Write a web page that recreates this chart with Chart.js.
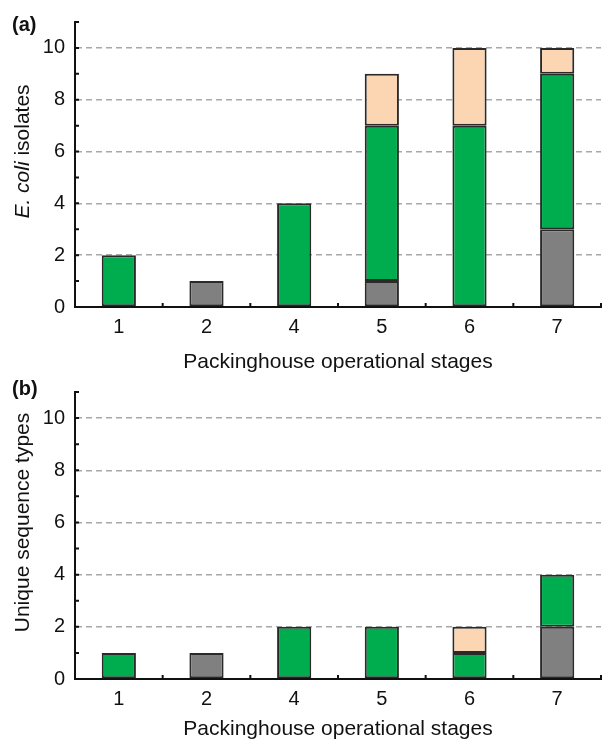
<!DOCTYPE html>
<html>
<head>
<meta charset="utf-8">
<script src="https://cdn.jsdelivr.net/npm/chart.js@4"></script>
<style>
  body { margin: 0; background: #fff; width: 604px; height: 740px; overflow: hidden; position: relative;
         font-family: "Liberation Sans", Arial, sans-serif; color: #111; }
  .panel { position: absolute; left: 0; width: 604px; height: 380px; }
  .lab { position: absolute; left: 12px; font-weight: bold; font-size: 20px; line-height: 20px; }
</style>
</head>
<body>
<div class="panel" style="top:0"><canvas id="chartA" width="604" height="380"></canvas></div>
<div class="panel" style="top:370px"><canvas id="chartB" width="604" height="380"></canvas></div>
<div class="lab" style="top:14px">(a)</div>
<div class="lab" style="top:378px">(b)</div>
<script>
const stages = ["1", "2", "4", "5", "6", "7"];

// (a) E. coli isolates
const isolatesGrey = [0, 1, 0, 1, 0, 3];
const isolatesGreen = [2, 0, 4, 6, 7, 6];
const isolatesPeach = [0, 0, 0, 2, 3, 1];

// (b) unique sequence types
const seqGrey = [0, 1, 0, 0, 0, 2];
const seqGreen = [1, 0, 2, 2, 1, 2];
const seqPeach = [0, 0, 0, 0, 1, 0];

const yLabels = [0, 2, 4, 6, 8, 10];
const yMax = 11;

const GREY = "#808080", GREEN = "#00ad4e", PEACH = "#fcd5b2";
const FONT = "'Liberation Sans', Arial, sans-serif";

// zero segments are left out so no empty border is drawn
const noZero = arr => arr.map(v => (v === 0 ? null : v));

function bars(label, data, color) {
  return {
    label: label,
    data: noZero(data),
    backgroundColor: color,
    borderColor: "#2a2a2a",
    borderWidth: 2,
    borderSkipped: false,
    barPercentage: 0.39,
    categoryPercentage: 1.0
  };
}

// inward tick marks + y title with italic part
const axisMarks = {
  id: "axisMarks",
  afterDraw(chart, args, opts) {
    const ctx = chart.ctx, x = chart.scales.x, y = chart.scales.y;
    ctx.save();
    ctx.strokeStyle = "#111";
    ctx.lineWidth = 2;
    ctx.beginPath();
    for (let v = 1; v <= yMax; v++) {
      const py = y.getPixelForValue(v);
      ctx.moveTo(x.left, py);
      ctx.lineTo(x.left + 4, py);
    }
    const half = (x.getPixelForValue(1) - x.getPixelForValue(0)) / 2;
    for (let i = 0; i < stages.length; i++) {
      const px = x.getPixelForValue(i) + half;
      ctx.moveTo(px, y.bottom);
      ctx.lineTo(px, y.bottom - 4);
    }
    ctx.stroke();

    // y axis title
    const parts = opts.title || [];
    ctx.translate(opts.titleX, (y.top + y.bottom) / 2 - 13);
    ctx.rotate(-Math.PI / 2);
    ctx.fillStyle = "#111";
    ctx.textBaseline = "middle";
    let total = 0;
    parts.forEach(p => {
      ctx.font = (p.italic ? "italic " : "") + "21px " + FONT;
      p.w = ctx.measureText(p.text).width;
      total += p.w;
    });
    let cx = -total / 2;
    parts.forEach(p => {
      ctx.font = (p.italic ? "italic " : "") + "21px " + FONT;
      ctx.fillText(p.text, cx, 0);
      cx += p.w;
    });
    ctx.restore();
  }
};

function makeChart(id, grey, green, peach, titleParts, topPad, xHeight, titleDrop) {
  return new Chart(document.getElementById(id), {
    type: "bar",
    data: {
      labels: stages,
      datasets: [
        bars("Grey", grey, GREY),
        bars("Green", green, GREEN),
        bars("Peach", peach, PEACH)
      ]
    },
    options: {
      responsive: false,
      animation: false,
      layout: { padding: { top: topPad, right: 3, left: 0, bottom: 10 } },
      plugins: {
        legend: { display: false },
        tooltip: { enabled: false },
        axisMarks: { title: titleParts, titleX: 23 }
      },
      scales: {
        x: {
          stacked: true,
          offset: true,
          grid: { display: false, drawTicks: false },
          border: { display: true, color: "#111", width: 2 },
          ticks: { color: "#111", font: { family: FONT, size: 20 }, padding: 8 },
          title: {
            display: true,
            text: "Packinghouse operational stages",
            color: "#111",
            font: { family: FONT, size: 21 },
            padding: { top: 0, bottom: -titleDrop }
          },
          afterFit: s => { s.height = xHeight; }
        },
        y: {
          stacked: true,
          min: 0,
          max: yMax,
          grid: {
            drawTicks: false,
            color: c => (c.tick && c.tick.value > 0 && c.tick.value % 2 === 0 ? "#a8a8a8" : "rgba(0,0,0,0)"),
            lineWidth: 1.5
          },
          border: { display: true, color: "#111", width: 2, dash: [6, 4] },
          ticks: {
            stepSize: 1,
            autoSkip: false,
            color: "#111",
            font: { family: FONT, size: 20 },
            padding: 10,
            callback: v => (yLabels.includes(v) ? String(v) : "")
          },
          afterFit: s => { s.width = 75; }
        }
      }
    },
    plugins: [axisMarks]
  });
}

makeChart("chartA", isolatesGrey, isolatesGreen, isolatesPeach,
  [{ text: "E. coli", italic: true }, { text: " isolates" }], 20, 63, 5);
makeChart("chartB", seqGrey, seqGreen, seqPeach,
  [{ text: "Unique sequence types" }], 22, 61, 2);
</script>
</body>
</html>
